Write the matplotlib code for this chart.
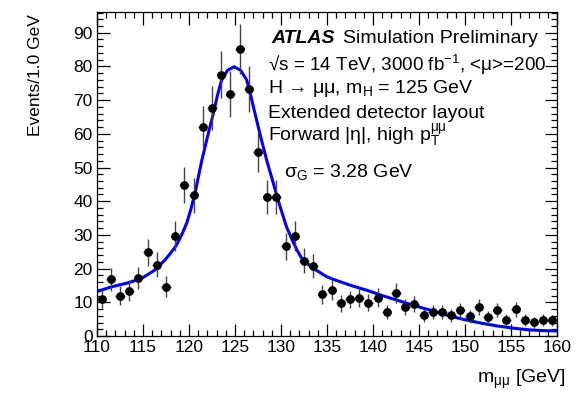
import matplotlib
matplotlib.use("Agg")
import matplotlib.pyplot as plt
from matplotlib.ticker import MultipleLocator

plt.rcParams['font.family'] = ['Liberation Sans', 'DejaVu Sans']
plt.rcParams['mathtext.fontset'] = 'custom'
plt.rcParams['mathtext.rm'] = 'Liberation Sans'
plt.rcParams['mathtext.it'] = 'Liberation Sans:italic'
plt.rcParams['mathtext.bf'] = 'Liberation Sans:bold'
plt.rcParams['mathtext.default'] = 'regular'

# Data (1 GeV bins)
bin_centers = [110.5 + i for i in range(50)]
events = [10.9, 16.8, 11.9, 13.4, 17.1, 24.9, 21.1, 14.6, 29.7, 44.8,
          41.8, 61.9, 67.6, 77.5, 71.9, 85.1, 73.2, 54.7, 41.3, 41.3,
          26.6, 29.7, 22.4, 20.8, 12.4, 13.6, 9.7, 10.9, 11.4, 9.9,
          11.4, 7.0, 12.7, 8.7, 9.5, 6.1, 7.0, 7.0, 6.1, 7.7,
          5.9, 8.7, 5.6, 7.7, 4.7, 7.9, 4.7, 4.1, 4.7, 4.6]
errors = [2.6, 3.3, 2.8, 2.9, 3.3, 4.0, 3.7, 3.1, 4.4, 5.4,
          5.2, 6.3, 6.6, 7.0, 6.8, 7.4, 6.8, 5.9, 5.1, 5.1,
          4.1, 4.4, 3.8, 3.6, 2.8, 3.0, 2.5, 2.6, 2.7, 2.5,
          2.7, 2.1, 2.9, 2.4, 2.5, 2.0, 2.1, 2.1, 2.0, 2.2,
          1.9, 2.4, 1.9, 2.2, 1.7, 2.2, 1.7, 1.6, 1.7, 1.7]

# Fitted curve
fit_x = [110.0, 111.6, 113.4, 114.85, 116.3, 117.4, 118.0, 118.6, 119.2, 119.75,
         120.2, 120.65, 121.0, 121.4, 122.0, 122.65, 123.1, 123.55, 124.2, 124.9,
         125.6, 126.27, 126.7, 127.17, 127.8, 128.44, 129.17, 129.9, 130.6, 131.2,
         131.7, 132.2, 133.3, 134.97, 135.7, 137.5, 139.3, 141.0, 142.9, 144.5,
         146.2, 148.0, 149.8, 151.6, 153.45, 155.3, 157.1, 158.5, 160.0]
fit_y = [13.2, 14.6, 15.8, 17.1, 19.6, 22.6, 24.6, 26.8, 30.0, 33.5,
         37.6, 42.3, 47.0, 52.2, 59.0, 66.1, 71.5, 76.0, 78.9, 79.9,
         78.9, 76.0, 71.5, 66.1, 59.0, 52.2, 45.3, 38.4, 32.4, 28.6,
         25.7, 23.3, 20.4, 17.6, 16.8, 15.1, 13.6, 12.0, 10.4, 9.0,
         7.7, 6.2, 4.95, 3.9, 3.0, 2.3, 1.8, 1.6, 1.5]

W, H = 586, 394
fig = plt.figure(figsize=(W / 100, H / 100), dpi=100)
ax = fig.add_axes([97 / W, 1 - 336 / H, (557 - 97) / W, (336 - 11.5) / H])

ax.plot(fit_x, fit_y, color='#0000ff', lw=2.2, zorder=2)
ax.errorbar(bin_centers, events, yerr=errors, xerr=0.5, fmt='o', color='black',
            ms=5.3, ecolor='#444444', elinewidth=1.0, capsize=0, zorder=3)

ax.set_xlim(110, 160)
ax.set_ylim(0, 96.3)
ax.xaxis.set_major_locator(MultipleLocator(5))
ax.xaxis.set_minor_locator(MultipleLocator(1))
ax.yaxis.set_major_locator(MultipleLocator(10))
ax.yaxis.set_minor_locator(MultipleLocator(2))
ax.tick_params(which='both', direction='in', top=True, right=True, labelsize=12.5)
ax.tick_params(which='major', length=9, width=0.9)
ax.tick_params(which='minor', length=4.5, width=0.9)
ax.tick_params(axis='x', pad=3)
ax.tick_params(axis='y', pad=3)
for s in ax.spines.values():
    s.set_linewidth(0.9)

def fx(px):
    return px / W

def fy(py):
    return 1 - py / H

fs = 14
fig.text(fx(271.7), fy(42.7), 'ATLAS', fontsize=fs, fontweight='bold', style='italic', va='baseline')
fig.text(fx(343.3), fy(42.7), 'Simulation Preliminary', fontsize=fs, va='baseline')
fig.text(fx(267.5), fy(70.7), '√s = 14 TeV, 3000 fb$^{-1}$, <μ>=200', fontsize=13.6, va='baseline')
fig.text(fx(267.5), fy(92.7), 'H → μμ, m$_{H}$ = 125 GeV', fontsize=fs, va='baseline')
fig.text(fx(267.5), fy(118.3), 'Extended detector layout', fontsize=fs, va='baseline')
fig.text(fx(267.5), fy(140.7), 'Forward |η|, high p$_{T}^{μμ}$', fontsize=fs, va='baseline')
fig.text(fx(284), fy(176.7), 'σ$_{G}$ = 3.28 GeV', fontsize=fs, va='baseline')

fig.text(fx(35), fy(14), 'Events/1.0 GeV', fontsize=12.5, rotation=90, ha='center', va='top')
fig.text(fx(566), fy(383), 'm$_{μμ}$ [GeV]', fontsize=14, ha='right', va='baseline')

fig.savefig('out.png', dpi=100)
